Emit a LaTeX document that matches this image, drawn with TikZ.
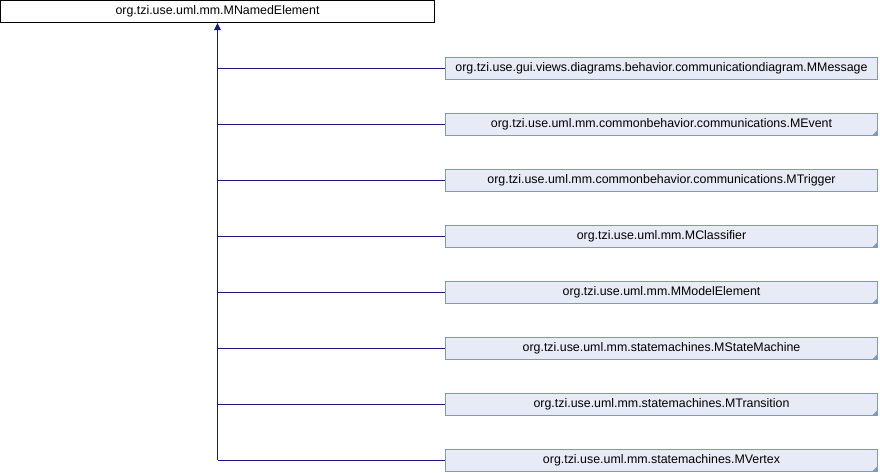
\documentclass[tikz,border=0pt]{standalone}
\usepackage{fontspec}
\setmainfont{Liberation Sans}
\usepackage{tikz}
\usetikzlibrary{arrows.meta,positioning,calc}
\usepackage{xcolor}
\definecolor{boxfill}{HTML}{E7EBF5}
\definecolor{boxdraw}{HTML}{7F96C6}
\definecolor{edgeblue}{HTML}{191980}

\begin{document}
\begin{tikzpicture}[x=1pt,y=1pt,
	  every node/.style={align=center,font=\fontsize{12.4}{14}\selectfont,inner sep=0pt},
	  base/.style={draw=black,fill=white,line width=1pt,minimum width=434pt,minimum height=22pt},
	  derived/.style={draw=boxdraw,fill=boxfill,line width=1pt,minimum width=432pt,minimum height=22pt},
	  more/.style={derived,path picture={
	      \fill[boxdraw] (path picture bounding box.south east) -- ++(-5pt,0) -- ++(5pt,5pt) -- cycle;}},
	  inherit/.style={draw=edgeblue,line width=1pt},
	  to/.style={inherit,-{Triangle[length=7pt,width=6.5pt]}}]

	  \useasboundingbox (0,0) rectangle (880,-472);

	  % base class at the top left
	  \node[base] (named) at (217.5,-11.5) {org.tzi.use.uml.mm.MNamedElement};

	  % derived classes, one row each
	  \node[derived] (message) at (661.5,-68) {org.tzi.use.gui.views.diagrams.behavior.communicationdiagram.MMessage};
	  \node[more] (event) at (661.5,-124) {org.tzi.use.uml.mm.commonbehavior.communications.MEvent};
	  \node[derived] (trigger) at (661.5,-180) {org.tzi.use.uml.mm.commonbehavior.communications.MTrigger};
	  \node[more] (classifier) at (661.5,-236) {org.tzi.use.uml.mm.MClassifier};
	  \node[more] (modelelem) at (661.5,-292) {org.tzi.use.uml.mm.MModelElement};
	  \node[more] (statemachine) at (661.5,-348) {org.tzi.use.uml.mm.statemachines.MStateMachine};
	  \node[more] (transition) at (661.5,-404) {org.tzi.use.uml.mm.statemachines.MTransition};
	  \node[more] (vertex) at (661.5,-460) {org.tzi.use.uml.mm.statemachines.MVertex};

	  % trunk and branches
	  \draw[to] (named.south |- vertex.west) -- (named.south);
	  \draw[inherit] (named.south |- message.west) -- (message.west);
	  \draw[inherit] (named.south |- event.west) -- (event.west);
	  \draw[inherit] (named.south |- trigger.west) -- (trigger.west);
	  \draw[inherit] (named.south |- classifier.west) -- (classifier.west);
	  \draw[inherit] (named.south |- modelelem.west) -- (modelelem.west);
	  \draw[inherit] (named.south |- statemachine.west) -- (statemachine.west);
	  \draw[inherit] (named.south |- transition.west) -- (transition.west);
	  \draw[inherit] (named.south |- vertex.west) -- (vertex.west);

\end{tikzpicture}
\end{document}
